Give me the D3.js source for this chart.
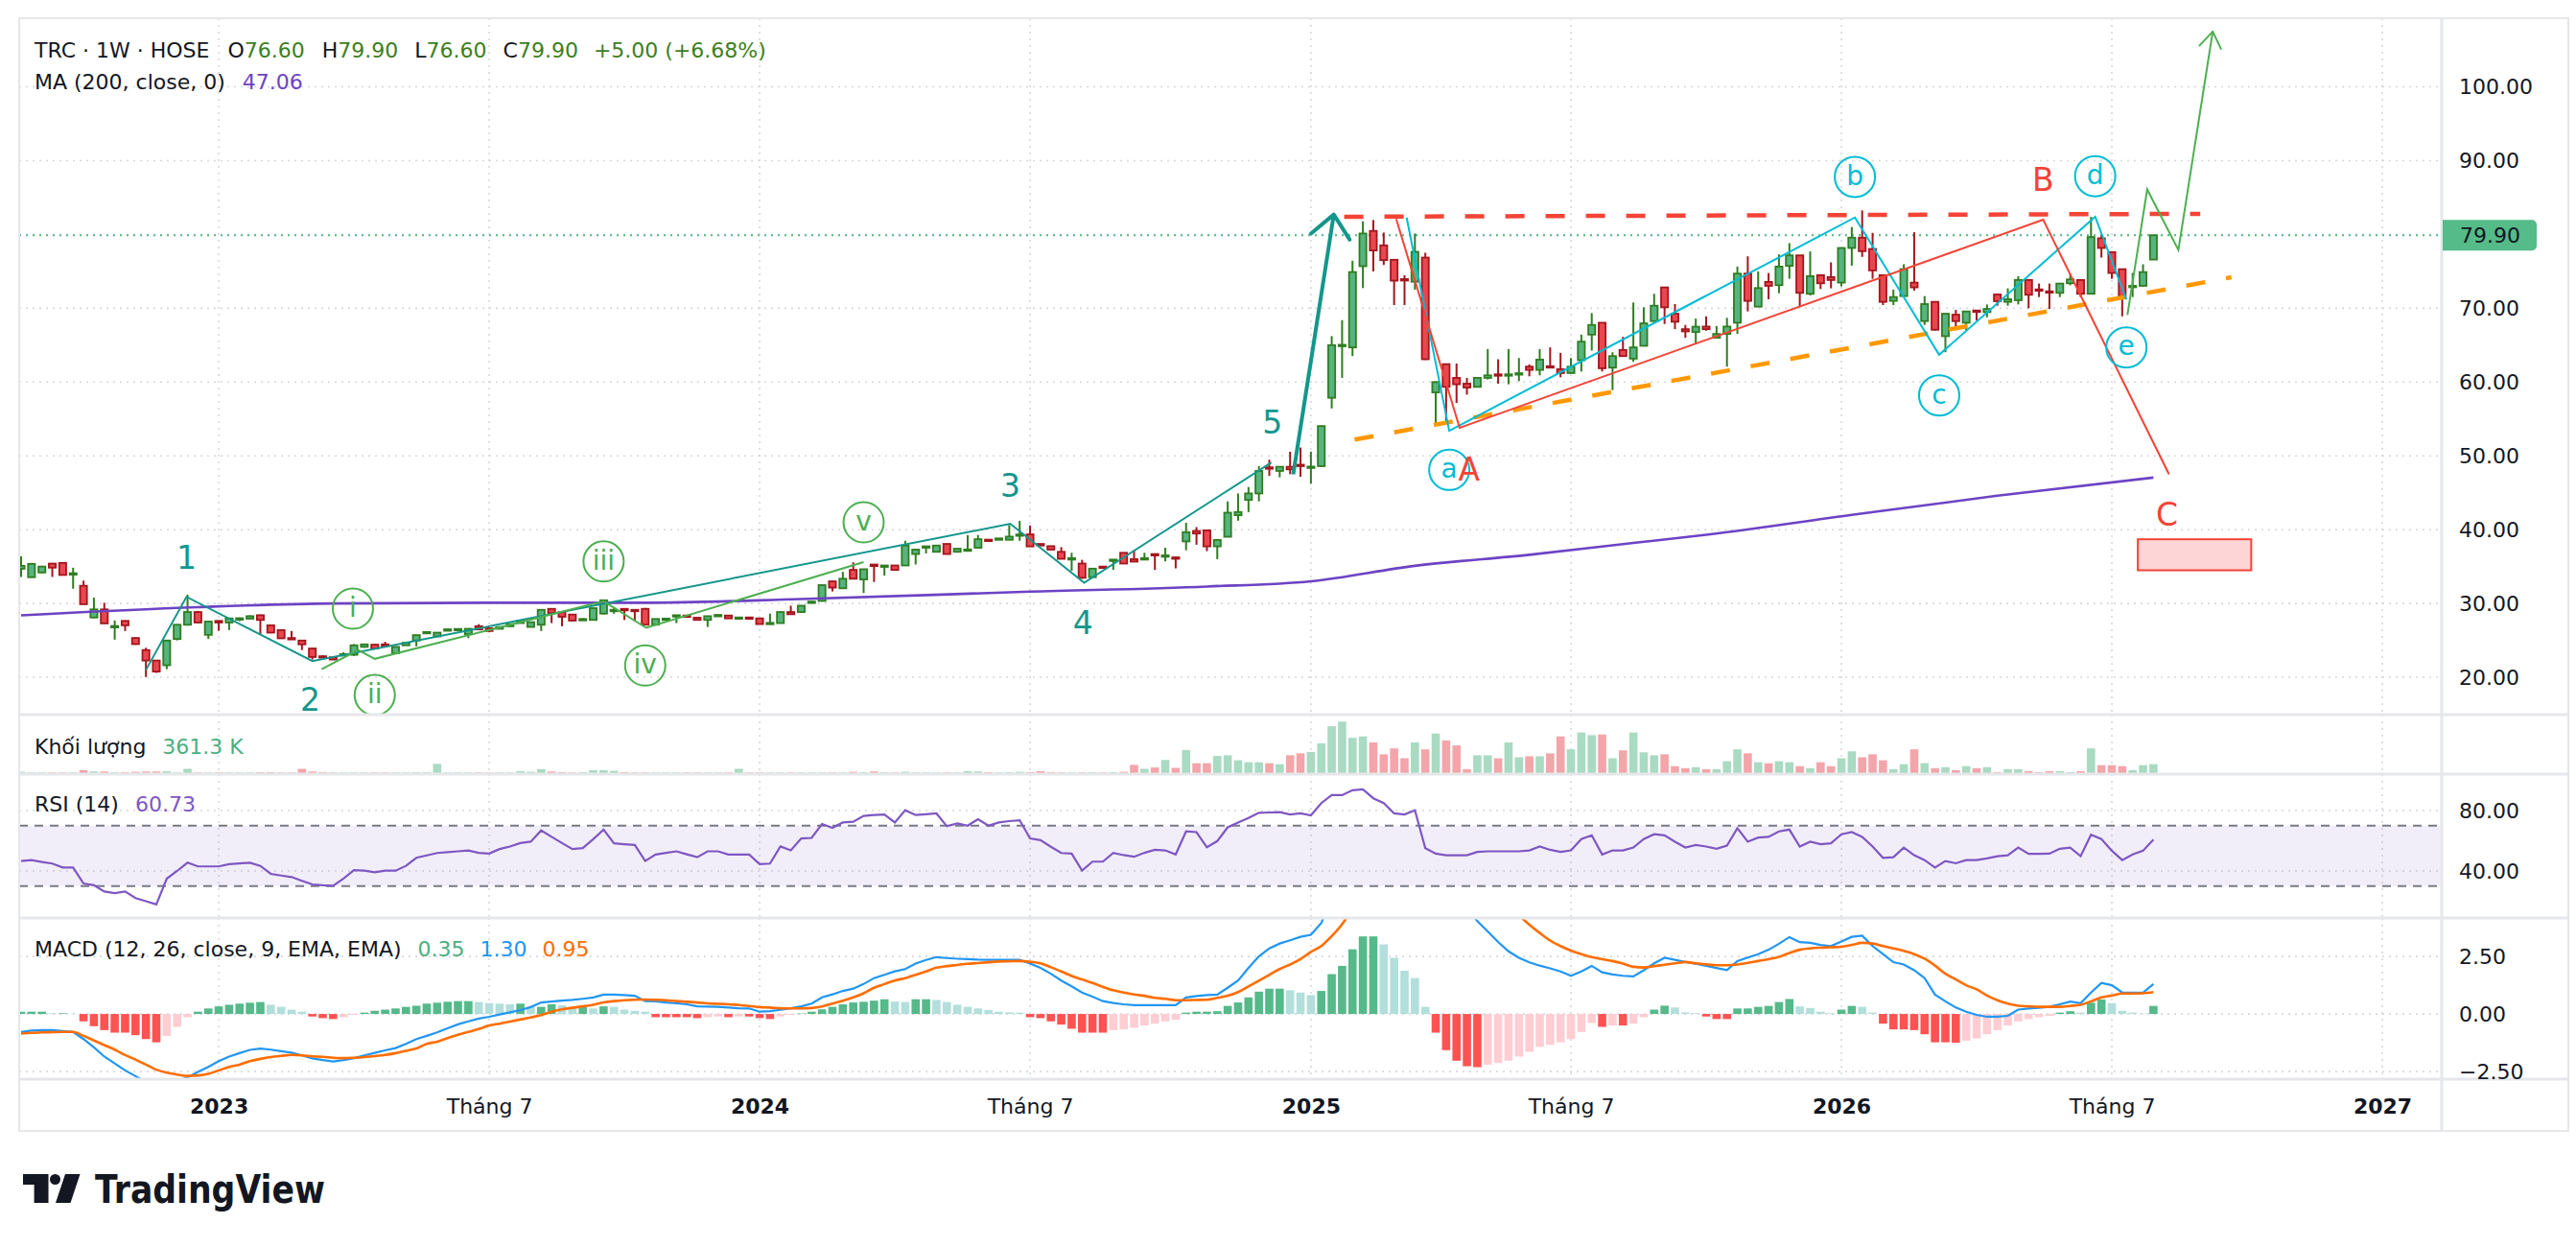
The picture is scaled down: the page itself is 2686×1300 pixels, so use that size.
<!DOCTYPE html>
<html><head><meta charset="utf-8">
<script src="https://cdn.jsdelivr.net/npm/d3@7"></script>
<style>
body{margin:0;background:#fff}
svg{display:block}
text{font-family:"DejaVu Sans",sans-serif}
</style></head>
<body><svg id="c" width="2686" height="1300"></svg>
<script>
// ---------------- DATA (weekly bars, index 0..205) ----------------
const opens = [
34.7,33.56,34.2,35.4,35.5,34.0,32.4,28.1,29.2,26.85,
27.64,25.32,23.69,22.27,21.63,25.19,27.12,28.84,25.75,27.64,
27.42,27.9,27.94,28.41,27.04,26.39,25.32,24.98,23.9,22.85,
22.7,23.05,23.05,24.12,24.42,24.46,23.26,24.33,24.98,25.97,
25.54,26.4,26.45,25.84,26.91,26.65,26.57,26.91,27.34,26.82,
27.12,29.27,28.8,28.5,27.85,27.77,28.63,29.06,29.27,29.14,
29.27,27.12,27.85,28.3,28.37,28.07,27.77,28.37,28.37,28.1,
28.11,27.98,27.3,27.34,28.84,28.84,30.13,30.34,33.0,32.06,
34.55,33.26,35.28,35.1,35.15,35.15,36.7,37.7,37.0,38.07,
37.0,37.28,37.55,38.65,38.75,38.63,39.3,39.36,38.07,37.77,
37.0,36.1,35.41,33.56,35.0,35.88,36.87,36.0,36.1,36.7,
36.5,36.25,38.41,39.83,39.91,37.74,39.04,41.96,44.04,44.91,
48.45,47.96,48.52,48.8,48.45,48.61,57.87,64.9,64.7,75.7,
80.48,78.52,76.57,73.95,73.6,76.87,58.6,62.43,60.57,59.78,
59.35,60.57,61.05,60.95,61.1,62.09,61.65,62.15,61.74,61.22,
62.96,66.43,68.04,61.96,64.35,63.17,64.91,68.26,72.83,69.26,
67.17,66.78,67.52,66.0,66.52,68.04,74.7,70.22,73.57,73.13,
75.74,77.17,71.96,74.48,74.22,73.48,78.17,79.57,78.04,74.48,
71.0,71.65,73.48,68.26,70.87,66.22,69.13,68.04,69.7,69.48,
71.87,70.87,71.09,73.83,72.56,72.3,72.09,73.39,73.83,71.96,
79.48,77.61,75.3,72.96,73.04,76.6];
const highs = [
36.4,35.5,35.1,35.5,35.6,34.85,33.1,30.8,30.1,27.7,
27.7,25.4,24.0,22.3,25.0,27.2,31.2,29.0,27.6,27.7,
28.0,28.1,28.4,28.5,27.1,26.4,26.27,25.0,23.95,23.0,
22.75,23.4,24.5,24.5,24.5,24.8,24.2,24.75,25.75,26.2,
26.1,26.55,26.6,26.6,27.2,26.7,26.85,27.25,27.7,27.5,
29.2,29.3,28.85,28.55,28.0,29.4,30.5,29.5,29.3,29.2,
29.4,27.95,28.0,28.45,28.4,28.1,28.3,28.5,28.4,28.2,
28.15,28.0,28.63,28.9,29.7,29.75,30.3,32.5,33.05,34.29,
35.58,34.7,35.3,35.2,35.2,38.5,37.35,37.8,37.9,38.1,
37.45,39.27,39.27,38.7,38.85,40.64,41.2,40.56,38.1,37.8,
37.64,36.87,35.92,34.75,35.05,36.0,36.9,37.21,36.87,36.75,
37.55,36.3,40.94,40.35,39.95,38.65,43.83,44.91,45.78,48.61,
49.48,48.6,50.57,51.13,50.57,54.1,66.22,68.39,76.43,81.78,
81.96,80.26,76.6,74.48,80.13,77.52,60.1,62.5,62.52,60.57,
60.6,64.48,63.09,64.48,63.26,62.39,64.48,64.7,63.96,63.26,
66.43,69.35,68.1,64.04,66.13,70.78,70.13,71.96,72.9,70.57,
67.74,68.6,68.91,67.61,68.7,75.65,77.04,75.0,74.78,77.3,
78.83,77.2,77.7,74.5,76.22,78.2,81.0,83.26,80.22,74.5,
72.52,75.96,80.3,71.65,70.9,69.3,69.78,69.6,69.75,70.52,
71.9,72.7,74.35,73.85,73.35,73.35,73.4,74.65,73.85,82.39,
79.91,77.65,75.35,74.78,75.96,79.9];
const lows = [
33.6,33.5,34.1,33.6,33.8,32.0,29.9,28.0,27.3,25.1,
26.27,24.4,20.04,20.6,21.1,25.0,27.0,27.3,25.2,26.3,
26.4,27.6,27.9,25.75,26.0,25.2,25.2,23.69,22.4,22.6,
22.35,22.9,22.9,24.0,23.85,24.2,23.2,24.3,24.2,25.9,
25.5,26.35,26.4,25.3,26.45,26.1,26.5,26.85,27.3,26.8,
26.27,27.34,26.91,27.6,27.8,27.7,28.5,28.6,27.77,27.55,
27.1,27.1,27.8,27.34,28.25,27.7,26.82,28.3,27.95,28.0,
28.0,27.2,27.25,27.3,28.5,28.8,30.1,30.3,31.63,32.0,
33.3,31.42,32.92,33.78,34.5,35.1,35.28,36.78,36.95,36.65,
36.95,37.2,37.5,38.5,38.7,38.6,38.5,37.7,37.8,37.25,
36.0,34.42,33.35,33.5,34.9,34.55,35.35,35.6,36.0,34.55,
35.71,34.76,37.21,37.96,37.09,36.0,39.0,41.22,42.39,43.83,
47.3,47.09,47.52,47.17,46.22,48.5,56.43,60.57,63.52,72.74,
75.0,75.87,70.43,70.43,72.52,63.0,54.4,54.7,57.17,58.3,
59.3,60.35,59.78,59.7,60.13,60.78,60.91,61.96,60.65,61.2,
61.43,64.26,61.43,58.91,63.5,62.74,64.85,68.2,67.87,67.17,
66.0,65.2,66.96,65.95,62.09,66.52,69.57,70.2,71.22,72.04,
74.0,70.22,71.74,72.61,72.7,72.96,75.78,76.96,74.0,70.43,
70.43,71.6,72.39,67.74,67.0,64.04,67.17,66.96,68.35,68.78,
70.35,70.35,70.52,70.0,71.52,69.91,71.52,73.13,71.52,71.9,
76.87,74.0,68.91,71.52,73.0,76.6];
const closes = [
35.1,35.36,35.0,34.85,33.86,34.1,29.9,29.2,27.3,26.95,
27.04,24.5,22.27,20.77,24.98,27.12,28.84,27.42,27.55,27.42,
27.98,28.0,28.28,27.77,26.05,25.28,25.28,24.46,22.75,22.83,
22.4,23.13,24.33,24.46,23.9,24.25,24.12,24.68,25.71,26.14,
26.05,26.5,26.55,26.57,26.48,26.27,26.82,27.21,27.68,27.47,
29.14,28.71,28.2,27.68,27.9,29.36,30.43,29.14,29.06,29.0,
27.12,27.9,27.95,28.41,28.28,27.77,28.28,28.45,27.98,28.11,
28.07,27.21,27.38,28.84,28.54,29.7,30.26,32.49,32.15,33.35,
33.35,34.64,35.06,35.15,34.55,37.85,37.3,37.75,37.85,36.7,
37.42,37.32,38.71,38.55,38.82,39.06,39.36,37.73,37.85,37.3,
36.05,36.14,33.48,34.72,34.95,35.95,35.41,35.67,36.14,36.62,
36.52,36.18,39.66,39.48,37.74,38.61,42.3,42.39,44.91,47.96,
48.3,48.52,48.17,48.7,48.55,54.04,65.0,65.05,74.91,80.13,
77.83,76.52,73.74,73.91,77.65,63.09,60.0,59.35,59.7,59.26,
60.57,60.91,60.95,61.05,61.2,61.65,63.04,62.05,61.22,62.09,
65.48,67.74,61.87,63.52,63.52,64.7,67.96,70.35,70.13,68.17,
66.87,67.5,67.17,66.52,67.52,74.7,71.0,72.74,73.04,75.65,
77.17,72.09,74.35,73.39,73.83,78.17,79.57,77.74,75.13,70.87,
71.52,75.3,72.83,70.57,67.09,69.26,68.26,69.57,69.6,69.91,
70.96,71.22,73.83,71.83,72.5,72.22,73.35,73.91,71.96,79.65,
78.17,74.78,71.39,73.04,74.9,79.9];
// volume in thousands
const volumes = [
84,60,60,60,60,60,145,96,96,72,
72,84,96,96,108,60,193,60,60,60,
60,60,60,72,72,60,60,193,96,72,
60,60,60,60,60,60,60,60,72,72,
373,60,60,60,60,60,60,60,108,84,
181,96,72,60,72,145,145,120,72,60,
60,60,60,60,60,60,60,60,60,193,
60,60,60,60,60,60,60,60,60,60,
84,72,96,72,60,84,60,60,60,60,
60,108,96,72,60,72,84,72,108,72,
60,60,60,72,60,72,84,337,193,241,
518,229,879,397,397,662,686,506,433,433,
397,361,686,758,807,1120,1746,1914,1324,1373,
1156,722,939,578,1156,903,1481,1228,1047,181,
686,686,578,1156,614,650,650,758,1373,903,
1517,1421,1445,578,867,1517,795,686,722,289,
217,253,181,181,470,903,758,433,397,470,
433,289,217,433,289,578,831,614,722,506,
181,361,903,397,217,253,145,289,217,253,
72,181,181,108,72,108,108,72,108,939,
325,325,289,145,325,361.3];
const rsiValues = [
46.6,47.2,46.0,44.9,42.3,42.3,31.7,30.6,26.4,25.3,
26.4,22.1,20.0,17.9,34.9,40.0,45.5,43.0,43.0,43.0,
44.5,45.0,45.5,43.4,38.1,37.0,36.0,33.5,31.1,30.5,
30.2,35.0,40.6,40.2,39.1,40.2,40.2,43.4,48.7,50.3,
51.9,52.5,53.0,53.6,52.0,51.5,54.5,56.2,58.5,59.4,
66.8,62.6,58.5,54.5,55.1,61.0,67.4,58.3,57.7,57.2,
46.6,50.9,52.0,53.0,51.0,49.1,53.0,53.0,50.9,50.9,
50.9,44.5,44.9,56.2,53.6,61.5,61.9,71.1,68.5,72.1,
72.6,76.4,77.0,77.4,72.1,80.2,77.0,77.5,78.1,69.6,
71.5,70.0,74.3,70.0,72.1,73.0,73.6,61.5,60.4,56.0,
51.9,51.5,40.2,46.2,46.2,51.9,50.5,49.4,52.0,54.0,
53.6,50.9,66.2,65.7,55.7,59.8,68.9,72.1,75.0,78.5,
78.7,78.9,77.4,78.1,76.8,84.9,90.2,90.2,93.4,94.0,
88.1,84.9,78.1,77.4,80.2,55.1,51.5,50.4,50.4,50.4,
52.6,53.0,53.0,53.0,53.0,53.6,56.2,54.0,52.6,53.6,
61.1,63.6,50.9,53.6,53.6,55.5,61.1,64.3,63.6,59.4,
55.5,57.2,56.2,54.7,56.8,68.3,59.4,62.1,62.6,66.2,
67.4,56.2,59.4,57.7,58.3,64.3,65.7,62.6,56.2,48.7,
49.1,55.5,50.4,47.2,42.3,46.6,45.1,47.2,47.2,48.3,
49.8,50.4,55.5,51.3,51.4,51.5,54.7,55.5,49.8,64.0,
61.1,53.4,47.2,50.9,53.4,60.73];
const macdLine = [
-0.78,-0.72,-0.70,-0.70,-0.74,-0.78,-1.09,-1.45,-1.85,-2.15,
-2.45,-2.70,-2.95,-3.05,-3.00,-2.90,-2.76,-2.52,-2.30,-2.05,
-1.85,-1.70,-1.56,-1.50,-1.55,-1.62,-1.68,-1.80,-1.93,-2.00,
-2.06,-2.00,-1.92,-1.80,-1.69,-1.58,-1.48,-1.30,-1.09,-0.95,
-0.80,-0.62,-0.45,-0.32,-0.20,-0.12,-0.02,0.07,0.17,0.30,
0.50,0.54,0.58,0.61,0.66,0.72,0.84,0.84,0.82,0.79,
0.56,0.55,0.50,0.47,0.42,0.33,0.32,0.31,0.28,0.25,
0.24,0.10,0.12,0.18,0.25,0.33,0.45,0.72,0.85,1.00,
1.10,1.30,1.56,1.70,1.85,1.95,2.19,2.35,2.47,2.43,
2.40,2.38,2.36,2.35,2.35,2.35,2.35,2.19,2.00,1.75,
1.45,1.20,0.93,0.75,0.56,0.48,0.42,0.38,0.38,0.38,
0.38,0.38,0.72,0.78,0.82,0.84,1.14,1.45,2.00,2.50,
2.85,3.06,3.20,3.35,3.44,3.95,5.11,5.99,7.41,8.81,
9.65,10.06,10.09,10.00,10.07,8.90,7.58,6.43,5.46,4.65,
4.03,3.59,3.13,2.72,2.44,2.24,2.10,1.98,1.85,1.66,
1.85,2.09,1.81,1.72,1.66,1.63,1.90,2.20,2.44,2.35,
2.26,2.18,2.09,2.00,1.91,2.30,2.45,2.60,2.79,3.05,
3.34,3.12,3.09,3.00,2.95,3.15,3.35,3.40,2.95,2.60,
2.25,2.15,1.90,1.56,0.84,0.55,0.28,0.10,-0.04,-0.12,
-0.12,-0.08,0.19,0.24,0.27,0.31,0.42,0.54,0.47,0.93,
1.35,1.25,0.93,0.93,0.93,1.30];
const signalLine = [
-0.85,-0.82,-0.80,-0.79,-0.78,-0.78,-0.95,-1.15,-1.35,-1.55,
-1.78,-1.98,-2.20,-2.42,-2.55,-2.63,-2.69,-2.67,-2.60,-2.45,
-2.30,-2.20,-2.05,-1.95,-1.87,-1.82,-1.78,-1.80,-1.84,-1.86,
-1.90,-1.92,-1.90,-1.87,-1.83,-1.78,-1.70,-1.60,-1.50,-1.30,
-1.20,-1.05,-0.90,-0.78,-0.65,-0.50,-0.42,-0.33,-0.24,-0.15,
-0.05,0.10,0.20,0.27,0.33,0.40,0.50,0.56,0.60,0.62,
0.63,0.62,0.60,0.56,0.53,0.50,0.46,0.44,0.42,0.39,
0.35,0.30,0.28,0.25,0.24,0.24,0.26,0.33,0.45,0.58,
0.72,0.90,1.14,1.30,1.45,1.56,1.70,1.85,2.01,2.08,
2.13,2.18,2.21,2.25,2.28,2.29,2.30,2.27,2.20,2.03,
1.85,1.65,1.50,1.35,1.18,1.03,0.93,0.85,0.79,0.70,
0.66,0.60,0.60,0.61,0.62,0.70,0.79,0.95,1.20,1.45,
1.70,1.95,2.15,2.38,2.70,2.95,3.38,3.90,4.60,5.44,
6.28,7.04,7.65,8.12,8.51,8.59,8.39,8.00,7.49,6.92,
6.34,5.79,5.26,4.75,4.29,3.88,3.52,3.19,2.95,2.75,
2.60,2.47,2.38,2.30,2.19,2.05,2.02,2.08,2.14,2.20,
2.26,2.20,2.16,2.12,2.12,2.15,2.22,2.30,2.38,2.48,
2.65,2.79,2.85,2.88,2.90,2.92,3.00,3.09,3.06,2.95,
2.85,2.74,2.60,2.40,2.10,1.75,1.50,1.25,1.07,0.80,
0.60,0.45,0.36,0.33,0.31,0.31,0.31,0.35,0.40,0.55,
0.72,0.80,0.89,0.89,0.90,0.95];
const macdHist = [
0.10,0.10,0.10,0.03,0.03,0.01,-0.32,-0.53,-0.70,-0.81,
-0.81,-0.92,-1.09,-1.23,-0.95,-0.56,-0.14,0.10,0.24,0.33,
0.40,0.45,0.49,0.52,0.40,0.31,0.19,0.10,-0.11,-0.18,
-0.22,-0.14,-0.04,0.06,0.14,0.19,0.24,0.31,0.36,0.45,
0.49,0.53,0.56,0.56,0.52,0.47,0.45,0.42,0.45,0.31,
0.31,0.42,0.38,0.31,0.31,0.24,0.33,0.31,0.19,0.14,
0.10,-0.14,-0.14,-0.14,-0.14,-0.18,-0.14,-0.11,-0.14,-0.11,
-0.11,-0.18,-0.22,-0.11,-0.04,0.02,0.10,0.20,0.31,0.42,
0.50,0.53,0.58,0.64,0.54,0.52,0.64,0.64,0.61,0.52,
0.40,0.31,0.24,0.17,0.10,0.07,0.06,-0.14,-0.18,-0.32,
-0.46,-0.64,-0.81,-0.81,-0.81,-0.70,-0.67,-0.60,-0.50,-0.42,
-0.32,-0.25,0.06,0.10,0.10,0.12,0.35,0.50,0.72,0.97,
1.10,1.10,1.03,0.93,0.82,1.00,1.73,2.09,2.81,3.37,
3.37,3.02,2.44,1.88,1.56,0.31,-0.81,-1.57,-2.03,-2.27,
-2.31,-2.20,-2.13,-2.03,-1.85,-1.64,-1.43,-1.34,-1.23,-1.09,
-0.78,-0.39,-0.56,-0.50,-0.50,-0.42,-0.14,0.19,0.36,0.28,
0.07,0.03,-0.11,-0.22,-0.22,0.24,0.24,0.31,0.35,0.52,
0.65,0.33,0.26,0.10,0.03,0.19,0.35,0.31,0.06,-0.42,
-0.67,-0.67,-0.70,-0.88,-1.23,-1.23,-1.25,-1.16,-1.06,-0.88,
-0.70,-0.50,-0.32,-0.22,-0.14,-0.08,0.06,0.12,0.06,0.49,
0.63,0.47,0.14,0.06,0.02,0.35];
// MA(200) readings at bar indices
const maIdx = [0,17,30,50,60,75,97,114,124,134,145,155,162,176,190,205];
const maVal = [28.4,29.5,30.0,30.1,30.1,30.6,31.6,32.3,33.0,35.1,36.6,38.2,39.3,42.0,44.6,47.06];

// axis ticks
const timeTickIdx = [19,45,71,97,124,149,175,201,227];
const timeTickLabels = ["2023","Tháng 7","2024","Tháng 7","2025","Tháng 7","2026","Tháng 7","2027"];
const timeTickBold = [true,false,true,false,true,false,true,false,true];
const priceTicks = [20,30,40,50,60,70,80,90,100];
const rsiTicks = [80,40];
const rsiBand = [70,30];
const macdTicks = [2.5,0,-2.5];
const lastPrice = 79.90;

// wave annotations (bar index, price)
const impulseIdx = [12.0,15.9,28.0,95.1,102.2,120.2];
const impulsePrice = [21.0,30.9,22.2,40.8,32.8,49.1];
const impulseArrowIdx = [122.3,126.2];
const impulseArrowPrice = [47.5,82.7];
const impulseLabels = ["1","2","3","4","5"];
const impulseLabelIdx = [15.9,27.8,95.1,102.1,120.3];
const impulseLabelPrice = [36.2,16.9,46.0,27.3,54.5];
const subwaveIdx = [28.9,32.4,34.0,56.0,60.1,81.0];
const subwavePrice = [21.1,23.7,22.5,30.3,26.7,35.6];
const subLabels = ["i","ii","iii","iv","v"];
const subLabelIdx = [31.9,34.0,56.0,60.0,81.0];
const subLabelPrice = [29.3,17.6,35.7,21.6,41.0];
const cyanIdx = [133.2,137.3,176.3,184.4,199.4,202.4];
const cyanPrice = [82.3,53.4,82.3,63.7,82.4,71.2];
const cyanLabels = ["a","b","c","d","e"];
const cyanLabelIdx = [137.3,176.3,184.4,199.4,202.4];
const cyanLabelPrice = [48.1,87.8,58.2,87.9,64.7];
const abcIdx = [132.2,138.3,194.4,206.5];
const abcPrice = [82.1,53.8,82.0,47.5];
const abcLabels = ["A","B","C"];
const abcLabelIdx = [139.2,194.4,206.3];
const abcLabelPrice = [48.2,87.4,42.0];
const resistIdx = [127.2,209.5];
const resistPrice = [82.4,82.8];
const supportIdx = [128.2,212.5];
const supportPrice = [52.2,74.2];
const projIdx = [202.5,204.4,207.4,210.7];
const projPrice = [69.1,86.1,77.9,107.5];
const targetIdx = [203.5,214.4];
const targetPrice = [38.7,34.5];

// ---------------- LAYOUT ----------------
const L=20, T=19, R=2678, B=1179, AX=2546;
const mainP=[T,745], volP=[745,807], rsiP=[807,957], macdP=[957,1125];
const FONT = '"DejaVu Sans", sans-serif';
const C = {
  text:"#131722", grid:"#d6d8de", sep:"#e6e7ea",
  upFill:"#56b47e", upLine:"#2f7d22", dnFill:"#e9474f", dnLine:"#a3161d",
  ohlc:"#3d7f20", ma:"#6d43c4", rsi:"#7e57c2", vUp:"#a9dac2", vDn:"#f3a5aa",
  teal:"#14968b", green:"#4caf50", cyan:"#00bcd4", red:"#f44336", orange:"#ff9800",
  blue:"#2196f3", sig:"#ff6d00", hUp:"#55b98a", hUpL:"#b2dfdb", hDn:"#ff5252", hDnL:"#ffcdd2",
  priceTag:"#55bb88"
};

const svg = d3.select("#c");
svg.append("rect").attr("width",2686).attr("height",1300).attr("fill","#fff");
const defs = svg.append("defs");
function clip(id, y0, y1){ defs.append("clipPath").attr("id",id).append("rect").attr("x",L).attr("y",y0).attr("width",AX-L).attr("height",y1-y0); return `url(#${id})`; }

const x = d3.scaleLinear().domain([0,227]).range([22,2484]);
const yP = d3.scaleLinear().domain([14.94,109.3]).range([mainP[1],mainP[0]]);
const yV = d3.scaleLinear().domain([0,2170]).range([volP[1],volP[0]]);
const yR = d3.scaleLinear().domain([8.9,104.1]).range([rsiP[1],rsiP[0]]);
const yM = d3.scaleLinear().domain([-2.83,4.17]).range([macdP[1],macdP[0]]);
const idx = d3.range(closes.length);
const up = i => closes[i] >= opens[i];

// ---------------- GRID ----------------
const grid = svg.append("g").attr("stroke",C.grid).attr("stroke-width",1.6).attr("stroke-dasharray","2,5");
[mainP,volP,rsiP,macdP].forEach(p=>{
  grid.append("g").selectAll("line").data(timeTickIdx).join("line")
    .attr("x1",d=>x(d)).attr("x2",d=>x(d)).attr("y1",p[0]).attr("y2",p[1]);
});
grid.selectAll(".hp").data(priceTicks).join("line").attr("x1",L).attr("x2",AX).attr("y1",d=>yP(d)).attr("y2",d=>yP(d));
grid.selectAll(".hr").data(rsiTicks).join("line").attr("class","hr").attr("x1",L).attr("x2",AX).attr("y1",d=>yR(d)).attr("y2",d=>yR(d));
grid.selectAll(".hm").data(macdTicks).join("line").attr("class","hm").attr("x1",L).attr("x2",AX).attr("y1",d=>yM(d)).attr("y2",d=>yM(d));

// ---------------- MAIN PANE ----------------
const gMain = svg.append("g").attr("clip-path",clip("cm",mainP[0],mainP[1]));
gMain.append("line").attr("x1",L).attr("x2",AX).attr("y1",yP(lastPrice)).attr("y2",yP(lastPrice))
  .attr("stroke",C.priceTag).attr("stroke-width",2).attr("stroke-dasharray","2,5");
gMain.append("g").selectAll("line").data(idx).join("line")
  .attr("x1",i=>x(i)).attr("x2",i=>x(i)).attr("y1",i=>yP(highs[i])).attr("y2",i=>yP(lows[i]))
  .attr("stroke",i=>up(i)?C.upLine:C.dnLine).attr("stroke-width",2);
gMain.append("g").selectAll("rect").data(idx).join("rect")
  .attr("x",i=>x(i)-3.6).attr("width",7.2)
  .attr("y",i=>yP(Math.max(opens[i],closes[i])))
  .attr("height",i=>Math.max(1.5,Math.abs(yP(opens[i])-yP(closes[i]))))
  .attr("fill",i=>up(i)?C.upFill:C.dnFill).attr("stroke",i=>up(i)?C.upLine:C.dnLine).attr("stroke-width",1.8);
gMain.append("path").datum(d3.zip(maIdx,maVal))
  .attr("d",d3.line().x(d=>x(d[0])).y(d=>yP(d[1])).curve(d3.curveMonotoneX))
  .attr("fill","none").attr("stroke",C.ma).attr("stroke-width",2.6);

// annotations
const pl = (ix,pr)=>d3.line()(ix.map((v,k)=>[x(v),yP(pr[k])]));
function arrowHead(g, ix, pr, color, len, ang, w){
  const n=ix.length, x1=x(ix[n-2]), y1=yP(pr[n-2]), x2=x(ix[n-1]), y2=yP(pr[n-1]);
  const a=Math.atan2(y1-y2,x1-x2);
  const pts=[[x2+len*Math.cos(a+ang),y2+len*Math.sin(a+ang)],[x2,y2],[x2+len*Math.cos(a-ang),y2+len*Math.sin(a-ang)]];
  g.append("path").attr("d",d3.line()(pts)).attr("fill","none").attr("stroke",color).attr("stroke-width",w).attr("stroke-linecap","round").attr("stroke-linejoin","round");
}
const gA = gMain.append("g");
gA.append("path").attr("d",pl(resistIdx,resistPrice)).attr("stroke",C.red).attr("stroke-width",4.5).attr("stroke-dasharray","20,22").attr("fill","none");
gA.append("path").attr("d",pl(supportIdx,supportPrice)).attr("stroke",C.orange).attr("stroke-width",4.5).attr("stroke-dasharray","20,22").attr("fill","none");
gA.append("path").attr("d",pl(impulseIdx,impulsePrice)).attr("stroke",C.teal).attr("stroke-width",2).attr("fill","none");
gA.append("path").attr("d",pl(impulseArrowIdx,impulseArrowPrice)).attr("stroke",C.teal).attr("stroke-width",4).attr("fill","none");
arrowHead(gA,impulseArrowIdx,impulseArrowPrice,C.teal,31,0.72,4);
gA.append("path").attr("d",pl(subwaveIdx,subwavePrice)).attr("stroke",C.green).attr("stroke-width",2).attr("fill","none");
gA.append("path").attr("d",pl(cyanIdx,cyanPrice)).attr("stroke",C.cyan).attr("stroke-width",2).attr("fill","none");
gA.append("path").attr("d",pl(abcIdx,abcPrice)).attr("stroke",C.red).attr("stroke-width",2).attr("fill","none");
gA.append("path").attr("d",pl(projIdx,projPrice)).attr("stroke",C.green).attr("stroke-width",2).attr("fill","none");
arrowHead(gA,projIdx,projPrice,C.green,20,0.6,2);
gA.append("rect").attr("x",x(targetIdx[0])).attr("width",x(targetIdx[1])-x(targetIdx[0]))
  .attr("y",yP(targetPrice[0])).attr("height",yP(targetPrice[1])-yP(targetPrice[0]))
  .attr("fill","#fdd5d7").attr("stroke",C.red).attr("stroke-width",2);
function labels(txt, ix, pr, color, size){
  gA.append("g").selectAll("text").data(txt).join("text")
    .attr("x",(d,k)=>x(ix[k])).attr("y",(d,k)=>yP(pr[k])).attr("text-anchor","middle").attr("dominant-baseline","central")
    .attr("fill",color).attr("font-size",size).attr("font-family",FONT).text(d=>d);
}
function circles(txt, ix, pr, color){
  gA.append("g").selectAll("circle").data(txt).join("circle")
    .attr("cx",(d,k)=>x(ix[k])).attr("cy",(d,k)=>yP(pr[k])).attr("r",21).attr("fill","none").attr("stroke",color).attr("stroke-width",2);
  labels(txt, ix, pr.map(v=>v+0.15), color, 28);
}
labels(impulseLabels, impulseLabelIdx, impulseLabelPrice, C.teal, 33);
circles(subLabels, subLabelIdx, subLabelPrice, C.green);
circles(cyanLabels, cyanLabelIdx, cyanLabelPrice, C.cyan);
labels(abcLabels, abcLabelIdx, abcLabelPrice, C.red, 33);

// ---------------- VOLUME ----------------
const gVol = svg.append("g").attr("clip-path",clip("cv",volP[0],volP[1]));
gVol.selectAll("rect").data(idx).join("rect")
  .attr("x",i=>x(i)-4.3).attr("width",8.6).attr("y",i=>yV(volumes[i])).attr("height",i=>yV(0)-yV(volumes[i]))
  .attr("fill",i=>up(i)?C.vUp:C.vDn);

// ---------------- RSI ----------------
const gRsi = svg.append("g").attr("clip-path",clip("cr",rsiP[0],rsiP[1]));
gRsi.append("rect").attr("x",L).attr("width",AX-L).attr("y",yR(rsiBand[0])).attr("height",yR(rsiBand[1])-yR(rsiBand[0])).attr("fill","rgba(126,87,194,0.1)");
gRsi.selectAll(".band").data(rsiBand).join("line").attr("x1",L).attr("x2",AX).attr("y1",d=>yR(d)).attr("y2",d=>yR(d))
  .attr("stroke","#787b86").attr("stroke-width",2).attr("stroke-dasharray","9,7");
gRsi.append("path").datum(idx).attr("d",d3.line().x(i=>x(i)).y(i=>yR(rsiValues[i])))
  .attr("fill","none").attr("stroke",C.rsi).attr("stroke-width",2.2);

// ---------------- MACD ----------------
const gMacd = svg.append("g").attr("clip-path",clip("cd",macdP[0],macdP[1]));
gMacd.selectAll("rect").data(idx).join("rect")
  .attr("x",i=>x(i)-4.3).attr("width",8.6)
  .attr("y",i=>yM(Math.max(0,macdHist[i]))).attr("height",i=>Math.abs(yM(macdHist[i])-yM(0)))
  .attr("fill",i=>{const h=macdHist[i],p=i>0?macdHist[i-1]:h; return h>=0?(h>=p?C.hUp:C.hUpL):(h<=p?C.hDn:C.hDnL);});
gMacd.append("path").datum(idx).attr("d",d3.line().x(i=>x(i)).y(i=>yM(macdLine[i])))
  .attr("fill","none").attr("stroke",C.blue).attr("stroke-width",2.2);
gMacd.append("path").datum(idx).attr("d",d3.line().x(i=>x(i)).y(i=>yM(signalLine[i])).curve(d3.curveMonotoneX))
  .attr("fill","none").attr("stroke",C.sig).attr("stroke-width",2.6);

// ---------------- FRAME & SEPARATORS ----------------
const fr = svg.append("g").attr("stroke",C.sep).attr("fill","none");
fr.append("rect").attr("x",L).attr("y",T).attr("width",R-L).attr("height",B-T).attr("stroke-width",2);
[volP[0],rsiP[0],macdP[0],macdP[1]].forEach(y=>fr.append("line").attr("x1",L).attr("x2",R).attr("y1",y).attr("y2",y).attr("stroke-width",3));
fr.append("line").attr("x1",AX).attr("x2",AX).attr("y1",T).attr("y2",B).attr("stroke-width",3);

// ---------------- AXES ----------------
function yAxis(scale, ticks, fmt){
  const g = svg.append("g").attr("transform",`translate(${AX},0)`)
    .call(d3.axisRight(scale).tickValues(ticks).tickSize(0).tickPadding(18).tickFormat(fmt));
  g.select(".domain").remove();
  g.selectAll("text").attr("font-family",FONT).attr("font-size",22).attr("fill",C.text);
  return g;
}
yAxis(yP, priceTicks, d3.format(".2f"));
yAxis(yR, rsiTicks, d3.format(".2f"));
const mAx = yAxis(yM, macdTicks, d3.format(".2f"));
mAx.attr("clip-path",`url(#cmaxis)`);
defs.append("clipPath").attr("id","cmaxis").append("rect").attr("x",0).attr("y",macdP[0]).attr("width",200).attr("height",macdP[1]-macdP[0]);
const tag = svg.append("g");
tag.append("path").attr("d",`M${AX+1},${yP(lastPrice)-16} H${AX+94} a5,5 0 0 1 5,5 V${yP(lastPrice)+11} a5,5 0 0 1 -5,5 H${AX+1} Z`).attr("fill",C.priceTag);
tag.append("text").attr("x",AX+19).attr("y",yP(lastPrice)).attr("dominant-baseline","central")
  .attr("font-family",FONT).attr("font-size",22).attr("fill",C.text).text(d3.format(".2f")(lastPrice));
const tAx = svg.append("g").attr("transform",`translate(0,${macdP[1]})`)
  .call(d3.axisBottom(x).tickValues(timeTickIdx).tickSize(0).tickPadding(20).tickFormat((d,k)=>timeTickLabels[k]));
tAx.select(".domain").remove();
tAx.selectAll("text").attr("font-family",FONT).attr("font-size",22).attr("fill",C.text)
  .attr("font-weight",(d,k)=>timeTickBold[k]?"bold":"normal");

// ---------------- LEGENDS ----------------
function legend(y, parts){
  let xx = 36;
  parts.forEach(p=>{
    xx += p.g||0;
    const t = svg.append("text").attr("x",xx).attr("y",y).attr("font-family",FONT).attr("font-size",22).attr("fill",p.c).text(p.t);
    xx += t.node().getComputedTextLength();
  });
}
legend(60,[{t:"TRC · 1W · HOSE",c:C.text},{t:"O",c:C.text,g:19},{t:"76.60",c:C.ohlc},{t:"H",c:C.text,g:18},{t:"79.90",c:C.ohlc},
  {t:"L",c:C.text,g:17},{t:"76.60",c:C.ohlc},{t:"C",c:C.text,g:17},{t:"79.90",c:C.ohlc},{t:"+5.00 (+6.68%)",c:C.ohlc,g:16}]);
legend(93,[{t:"MA (200, close, 0)",c:C.text},{t:"47.06",c:C.ma,g:18}]);
legend(786,[{t:"Khối lượng",c:C.text},{t:"361.3 K",c:"#4caf7f",g:17}]);
legend(846,[{t:"RSI (14)",c:C.text},{t:"60.73",c:C.rsi,g:17}]);
legend(997,[{t:"MACD (12, 26, close, 9, EMA, EMA)",c:C.text},{t:"0.35",c:"#4caf7f",g:17},{t:"1.30",c:C.blue,g:16},{t:"0.95",c:C.sig,g:16}]);

// ---------------- LOGO ----------------
const logo = svg.append("g").attr("fill","#131722");
logo.append("path").attr("d","M24,1224 H50.5 V1254 H35.6 V1235 H24 Z");
logo.append("circle").attr("cx",57.5).attr("cy",1229.5).attr("r",5.5);
logo.append("path").attr("d","M68,1224 H83.5 L73.5,1254 H58 Z");
logo.append("text").attr("x",99).attr("y",1254).attr("font-family","Inter, Roboto, sans-serif").attr("font-weight",700)
  .attr("font-size",40).attr("textLength",240).attr("lengthAdjust","spacingAndGlyphs").text("TradingView");
</script>
</body></html>
